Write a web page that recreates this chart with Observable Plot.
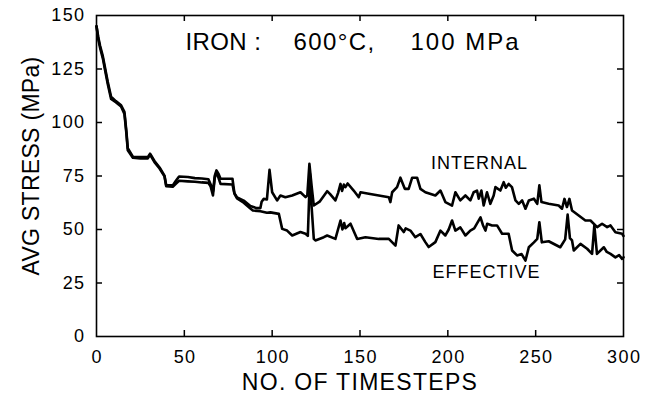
<!DOCTYPE html>
<html>
<head>
<meta charset="utf-8">
<script src="https://cdn.jsdelivr.net/npm/d3@7"></script>
<script src="https://cdn.jsdelivr.net/npm/@observablehq/plot@0.6"></script>
<style>
  html, body { margin: 0; padding: 0; background: #fff; }
  #chart svg { display: block; }
</style>
</head>
<body>
<div id="chart"></div>
<script>
// ---- data ----
const xTickValues = [0, 50, 100, 150, 200, 250, 300];
const yTickValues = [0, 25, 50, 75, 100, 125, 150];
const xInnerTicks = [50, 100, 150, 200, 250];
const yInnerTicks = [25, 50, 75, 100, 125];

const titleParts = ["IRON :", "600°C,", "100 MPa"];
const seriesNames = ["INTERNAL", "EFFECTIVE"];
const seriesLabelX = [218, 222];
const seriesLabelY = [81, 30];

const internalX = [0, 1, 2, 3.6, 5, 6.4, 8.3, 11, 14, 15.9, 17, 17.8, 20.7, 25, 29.2, 30.5, 33, 35.9, 38.7, 39.7, 43.4, 45.3, 47, 52, 56, 60, 63.7, 65, 66.4, 67.3, 68.3, 69.5, 70.6, 77.4, 78.5, 80, 83.8, 87.6, 91, 93.3, 94, 95.2, 97, 98.5, 100, 102.8, 104.7, 107.5, 111.4, 116.1, 119, 120, 121.2, 122.5, 123.7, 127, 131.3, 133, 136, 137.5, 138.9, 139.8, 140.8, 141.7, 143, 146.4, 149.3, 150.3, 155, 160.7, 166.4, 167.3, 168.3, 171.1, 173, 175.5, 177.7, 179.7, 182.5, 184.4, 187.2, 192.9, 195.8, 198.6, 202.4, 204.3, 207.1, 210, 212.8, 214.7, 216.6, 217.6, 219.1, 220.4, 222.3, 224.2, 226.1, 227.1, 229.9, 231.8, 233, 234.6, 236.5, 238.5, 240.4, 242.3, 244.2, 246.1, 249, 250.9, 252.1, 253.3, 257.4, 263.1, 265, 266.4, 267.8, 269.2, 270.7, 274.5, 278.3, 281.2, 285, 287.8, 290.7, 292.6, 295.4, 299.2, 300];
const internalY = [145, 140, 136, 131, 125, 119, 112, 110, 108, 105, 96, 88, 84, 83.8, 83.8, 85.4, 82, 79, 75.2, 70.6, 70.6, 72.9, 74.8, 74.5, 74, 73.8, 73.5, 71, 68, 75, 77.6, 76, 73.7, 73.7, 67, 65, 63.5, 61, 60, 60, 63, 64.3, 64, 77.9, 67.4, 63.6, 65.9, 65.1, 65.9, 67.4, 65.1, 66, 80.7, 70, 61.2, 63, 67.9, 66.5, 63.6, 67, 71.3, 68, 71, 69.8, 71.5, 68.2, 65.1, 67.4, 66.7, 65.9, 65.1, 62.8, 67.4, 69.8, 74.2, 69, 69, 74.2, 74.2, 69, 67.4, 65.9, 68.2, 62.8, 61.2, 67.4, 63.6, 65.9, 63.6, 67.4, 68.2, 64.4, 68.2, 61.2, 67.4, 62, 65.9, 69.8, 68.2, 72.1, 69.5, 71.3, 69.8, 63.6, 62, 63.6, 59.7, 63.6, 64.4, 62, 70.6, 62.8, 62, 61.2, 59.7, 64.3, 60.5, 64.3, 58.9, 56.5, 54.2, 54.2, 51.1, 52.7, 51.1, 51.9, 48.7, 48, 47];

const effectiveX = [0, 1, 2, 3.6, 5, 6.4, 8.3, 11, 14, 15.9, 17, 17.8, 20.7, 25, 29.2, 30.5, 33, 35.9, 38.7, 39.7, 43.4, 45.3, 47, 52, 56, 60, 63.7, 65, 66.3, 67.3, 68.3, 69.5, 70.6, 77.4, 78.5, 80, 83.8, 87.6, 89, 93.3, 97, 99, 103.8, 105.7, 108.5, 111.4, 116.1, 119, 120.3, 121.5, 122.5, 123.7, 124.6, 129.4, 131.3, 136, 138.9, 140, 141, 141.7, 144.6, 148.4, 153.1, 160.7, 166.4, 170.2, 172, 174.9, 176, 178.7, 181.5, 184.4, 187.2, 189.1, 192.9, 195.8, 198.6, 200.5, 202.4, 204.3, 207.1, 210, 212.8, 215, 218.6, 220, 221.4, 222.4, 225.2, 228, 230.9, 234.6, 236.6, 239.4, 242, 244.2, 246.1, 249, 250.9, 252.1, 253.5, 257.4, 264, 266.8, 268.2, 269.5, 270.7, 271.7, 275.5, 279.3, 282.1, 283.4, 284.9, 288.8, 290.5, 292.6, 295.4, 297.5, 299.2, 300];
const effectiveY = [145, 139, 135, 130, 124, 118, 111, 109.5, 107.5, 104, 95, 87, 83.5, 83.2, 83.2, 85, 81.5, 78.5, 74.8, 70.2, 70, 71.5, 72.8, 72.5, 72.3, 72, 71.8, 70, 65.9, 74, 77, 74, 71.3, 71, 66.8, 64.5, 62.5, 59.8, 58.9, 58.5, 57.8, 58, 57.3, 50.3, 49.5, 47.2, 48.8, 48, 47, 76, 60, 45.6, 44.9, 46.4, 47.2, 45.6, 54.2, 50, 53, 50.6, 52.7, 45.6, 46.4, 45.6, 45.6, 42.5, 51.9, 48.8, 50.5, 49.5, 46.4, 47.9, 44.1, 41.8, 44.1, 49.5, 47.2, 50, 54.2, 49.5, 51, 47.2, 49.5, 50.5, 55.7, 52, 49.5, 52.7, 51.9, 51.9, 48, 48, 40.2, 37.9, 38.5, 35.5, 41.7, 44, 45.6, 53.4, 44, 44.5, 41.7, 45.4, 57, 46, 44.9, 40.2, 43.3, 41, 38.6, 51.9, 38.6, 41.7, 39.5, 38.6, 37, 38, 36.3, 37];

// ---- tables for the library ----
const internal = internalX.map((x, i) => ({x, y: internalY[i]}));
const effective = effectiveX.map((x, i) => ({x, y: effectiveY[i]}));
const seriesLabels = seriesNames.map((name, i) => ({name, x: seriesLabelX[i], y: seriesLabelY[i]}));

const font = "'Liberation Sans', Arial, Helvetica, sans-serif";
const W = 652, H = 405;
const mTop = 15, mBottom = 69, mLeft = 96, mRight = 29;
const frameH = H - mTop - mBottom;
const frameW = W - mLeft - mRight;
const tick = 6;

const chart = Plot.plot({
  width: W,
  height: H,
  marginTop: mTop,
  marginBottom: mBottom,
  marginLeft: mLeft,
  marginRight: mRight,
  style: {fontFamily: font, background: "#fff", color: "#000", overflow: "visible"},
  x: {domain: [0, 300]},
  y: {domain: [0, 150]},
  marks: [
    // curves
    Plot.line(internal, {x: "x", y: "y", stroke: "#000", strokeWidth: 2.6, strokeLinejoin: "round"}),
    Plot.line(effective, {x: "x", y: "y", stroke: "#000", strokeWidth: 2.6, strokeLinejoin: "round"}),
    // frame
    Plot.frame({stroke: "#000", strokeWidth: 1.6}),
    // inward ticks
    Plot.tickX(xInnerTicks, {x: d => d, insetTop: frameH - tick, stroke: "#000", strokeWidth: 1.5}),
    Plot.tickX(xInnerTicks, {x: d => d, insetBottom: frameH - tick, stroke: "#000", strokeWidth: 1.5}),
    Plot.tickY(yInnerTicks, {y: d => d, insetRight: frameW - tick, stroke: "#000", strokeWidth: 1.5}),
    Plot.tickY(yInnerTicks, {y: d => d, insetLeft: frameW - tick, stroke: "#000", strokeWidth: 1.5}),
    // tick labels
    Plot.axisX({ticks: xTickValues, tickSize: 0, tickPadding: 14, fontSize: 18, label: null, dx: 0.7}),
    Plot.axisY({ticks: yTickValues, tickSize: 0, tickPadding: 11, fontSize: 18, label: null}),
    // axis titles
    Plot.text(["NO. OF TIMESTEPS"], {frameAnchor: "bottom", lineAnchor: "middle", dy: 46, dx: 0, fontSize: 23}),
    Plot.text(["AVG STRESS (MPa)"], {frameAnchor: "left", textAnchor: "middle", lineAnchor: "middle", dx: -65, dy: -10, rotate: -90, fontSize: 23}),
    // title pieces
    Plot.text([titleParts[0]], {frameAnchor: "top-left", lineAnchor: "middle", dx: 89, dy: 27, textAnchor: "start", fontSize: 24}),
    Plot.text([titleParts[1]], {frameAnchor: "top-left", lineAnchor: "middle", dx: 197, dy: 27, textAnchor: "start", fontSize: 24}),
    Plot.text([titleParts[2]], {frameAnchor: "top-left", lineAnchor: "middle", dx: 314, dy: 27, textAnchor: "start", fontSize: 24}),
    // series labels
    Plot.text(seriesLabels, {x: "x", y: "y", text: "name", fontSize: 18, fill: "#000"})
  ]
});

// letter spacing to match the wide lettering of the original
const spacing = {
  "NO. OF TIMESTEPS": 1.3,
  "AVG STRESS (MPa)": 0.3,
  "IRON :": 0.4,
  "600°C,": 1.4,
  "100 MPa": 2,
  "INTERNAL": 1,
  "EFFECTIVE": 1
};
d3.select(chart).selectAll("text").each(function() {
  const t = this.textContent;
  const s = t in spacing ? spacing[t] : (/^\d+$/.test(t) ? 1.4 : 0);
  this.style.letterSpacing = s + "px";
});
document.getElementById("chart").appendChild(chart);
</script>
</body>
</html>
